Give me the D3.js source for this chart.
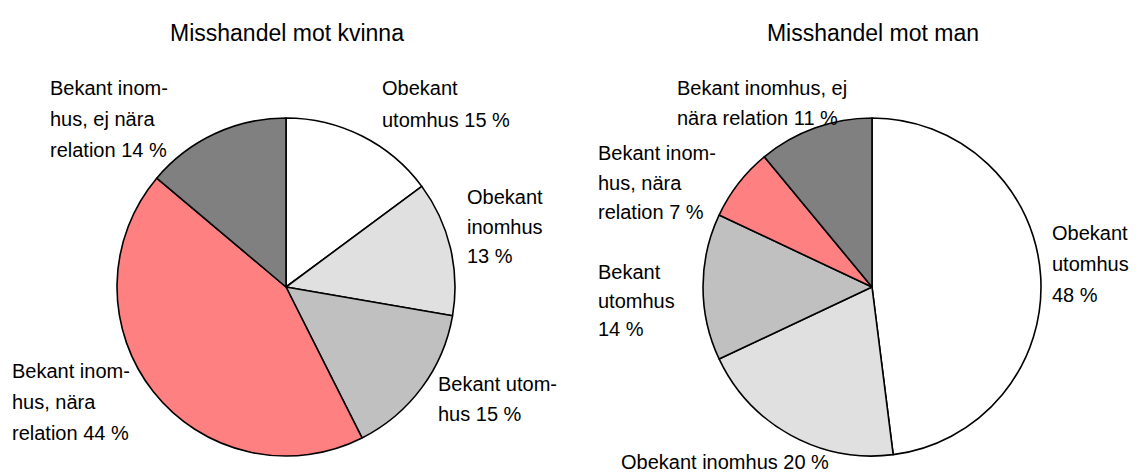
<!DOCTYPE html>
<html lang="sv">
<head>
    <meta charset="UTF-8">
    <title>Misshandel</title>
    <script src="https://d3js.org/d3.v7.min.js"></script>
    <style>
        body { margin: 0; background: #fff; }
        text { font-family: "Liberation Sans", Arial, sans-serif; fill: #000; }
    </style>
</head>
<body>
<div id="chart"></div>
<script>
    var width = 1137, height = 472;

    // categories, same order in both pies (clockwise from 12 o'clock)
    const categories = ["Obekant utomhus", "Obekant inomhus", "Bekant utomhus", "Bekant inomhus, nära relation", "Bekant inomhus, ej nära relation"];
    const colors = ["#ffffff", "#e0e0e0", "#c0c0c0", "#ff8080", "#808080"];

    const titles = ["Misshandel mot kvinna", "Misshandel mot man"];
    const valuesKvinna = [15, 13, 15, 44, 14];
    const valuesMan = [48, 20, 14, 7, 11];

    // label text, split into lines as in the original
    const labelsKvinna = [
        ["Obekant", "utomhus 15 %"],
        ["Obekant", "inomhus", "13 %"],
        ["Bekant utom-", "hus 15 %"],
        ["Bekant inom-", "hus, nära", "relation 44 %"],
        ["Bekant inom-", "hus, ej nära", "relation 14 %"]
    ];
    const labelsMan = [
        ["Obekant", "utomhus", "48 %"],
        ["Obekant inomhus 20 %"],
        ["Bekant", "utomhus", "14 %"],
        ["Bekant inom-", "hus, nära", "relation 7 %"],
        ["Bekant inomhus, ej", "nära relation 11 %"]
    ];

    // layout: where each label block starts (left x, first baseline, line step)
    var pies = [
        { cx: 286, cy: 287, values: valuesKvinna, labels: labelsKvinna,
          pos: [[382, 95, 32], [467, 204, 29.5], [438, 391, 30], [12, 378, 31], [50, 95, 31]] },
        { cx: 872, cy: 287, values: valuesMan, labels: labelsMan,
          pos: [[1052, 240, 31], [621, 469, 30], [598, 279, 28.5], [598, 160, 29.5], [677, 95, 30]] }
    ];
    var radius = 169;

    var svg = d3.select("#chart").append("svg")
        .attr("width", width)
        .attr("height", height);

    var pie = d3.pie().sort(null).value(function(d) { return d; });
    var arc = d3.arc().innerRadius(0).outerRadius(radius);

    pies.forEach(function(p, k) {
        var g = svg.append("g").attr("transform", "translate(" + p.cx + "," + p.cy + ")");

        g.selectAll("path")
            .data(pie(p.values))
            .enter()
            .append("path")
            .attr("d", arc)
            .attr("fill", function(d, i) { return colors[i]; })
            .attr("stroke", "#000")
            .attr("stroke-width", 1.6)
            .attr("stroke-linejoin", "round");

        svg.append("text")
            .attr("x", p.cx + 1)
            .attr("y", 41)
            .attr("text-anchor", "middle")
            .style("font-size", "23px")
            .text(titles[k]);

        p.labels.forEach(function(lines, i) {
            var t = svg.append("text")
                .attr("x", p.pos[i][0])
                .attr("y", p.pos[i][1])
                .style("font-size", "20px");
            lines.forEach(function(line, j) {
                t.append("tspan")
                    .attr("x", p.pos[i][0])
                    .attr("y", p.pos[i][1] + j * p.pos[i][2])
                    .text(line);
            });
        });
    });
</script>
</body>
</html>
